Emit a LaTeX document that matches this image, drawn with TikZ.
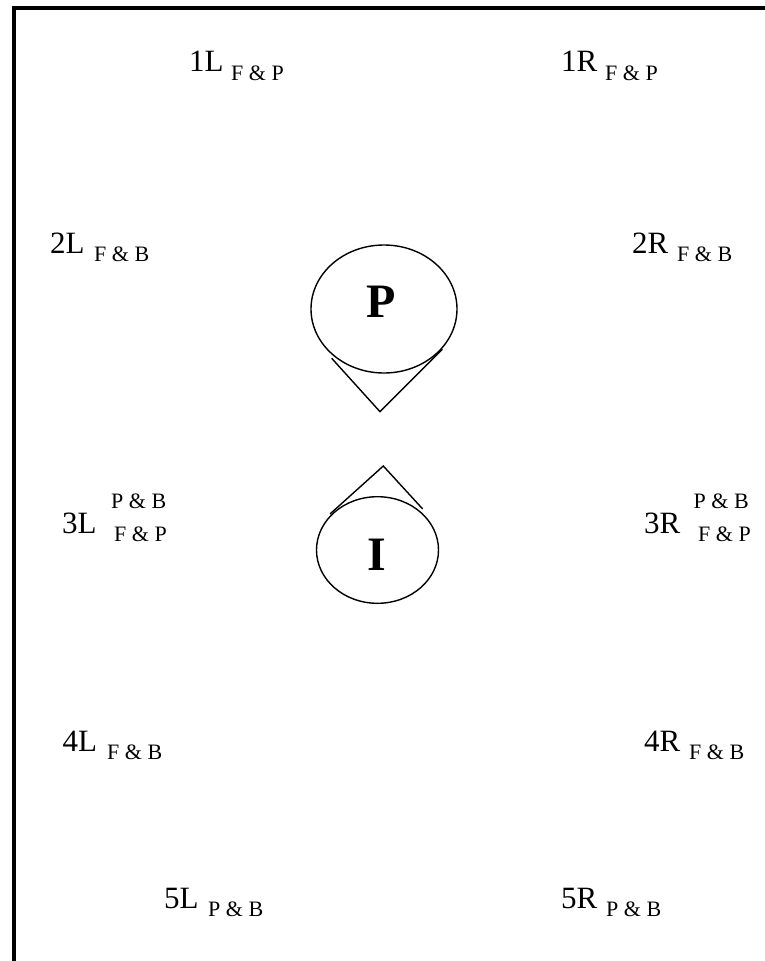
\documentclass[tikz,border=0pt]{standalone}
\usepackage{fontspec}
\setmainfont{Liberation Serif}
\usetikzlibrary{shapes.geometric}

\tikzset{
  seatlbl/.style={anchor=base west, inner sep=0pt, font=\fontsize{31}{31}\selectfont},
  sidelbl/.style={anchor=base west, inner sep=0pt, font=\fontsize{22}{22}\selectfont},
  letterlbl/.style={anchor=base west, inner sep=0pt, font=\fontsize{48}{48}\selectfont\bfseries},
  ring/.style={ellipse, draw, line width=1.4pt, inner sep=0pt},
  wedge/.style={line width=1.4pt, line join=miter},
  frameline/.style={line width=3.8pt, line join=miter}
}

\begin{document}
\begin{tikzpicture}[x=1pt, y=-1pt]
\useasboundingbox (0,0) rectangle (765,961);

% frame along the top and left edges
\coordinate (ftop) at (765,8);
\coordinate (fcorner) at (14,8);
\coordinate (fbottom) at (14,961);
\draw[frameline] (ftop) -- (fcorner) -- (fbottom);

% row 1
\node[seatlbl] (l1)  at (189,71.7) {1L};
\node[sidelbl] (l1s) at (231,80) {F \& P};
\node[seatlbl] (r1)  at (561,71.7) {1R};
\node[sidelbl] (r1s) at (605,80) {F \& P};

% row 2
\node[seatlbl] (l2)  at (50,253) {2L};
\node[sidelbl] (l2s) at (94,261.7) {F \& B};
\node[seatlbl] (r2)  at (632,253) {2R};
\node[sidelbl] (r2s) at (677,261.7) {F \& B};

% row 3
\node[seatlbl] (l3)  at (62,533.3) {3L};
\node[sidelbl] (l3u) at (111,508.3) {P \& B};
\node[sidelbl] (l3s) at (114,541.7) {F \& P};
\node[seatlbl] (r3)  at (644,533.3) {3R};
\node[sidelbl] (r3u) at (693.5,508.3) {P \& B};
\node[sidelbl] (r3s) at (698,541.5) {F \& P};

% row 4
\node[seatlbl] (l4)  at (62.5,751) {4L};
\node[sidelbl] (l4s) at (107,759.3) {F \& B};
\node[seatlbl] (r4)  at (644,751) {4R};
\node[sidelbl] (r4s) at (689,759.3) {F \& B};

% row 5
\node[seatlbl] (l5)  at (164,908.3) {5L};
\node[sidelbl] (l5s) at (208,916.7) {P \& B};
\node[seatlbl] (r5)  at (561,908.3) {5R};
\node[sidelbl] (r5s) at (606,916.7) {P \& B};

% upper ring with its wedge pointing down
\node[ring, minimum width=146pt, minimum height=128pt] (ringP) at (384,309) {};
\node[letterlbl] (P) at (366,317) {P};
\coordinate (pa) at (331.7,358.3);
\coordinate (pv) at (380,411.7);
\coordinate (pb) at (442.3,349.3);
\draw[wedge] (pa) -- (pv) -- (pb);

% lower ring with its wedge pointing up
\node[ring, minimum width=122pt, minimum height=106.6pt] (ringI) at (377.5,550) {};
\node[letterlbl] (I) at (367,570.7) {I};
\coordinate (ia) at (330,514);
\coordinate (iv) at (383.3,466);
\coordinate (ib) at (422.7,509);
\draw[wedge] (ia) -- (iv) -- (ib);
\end{tikzpicture}
\end{document}
